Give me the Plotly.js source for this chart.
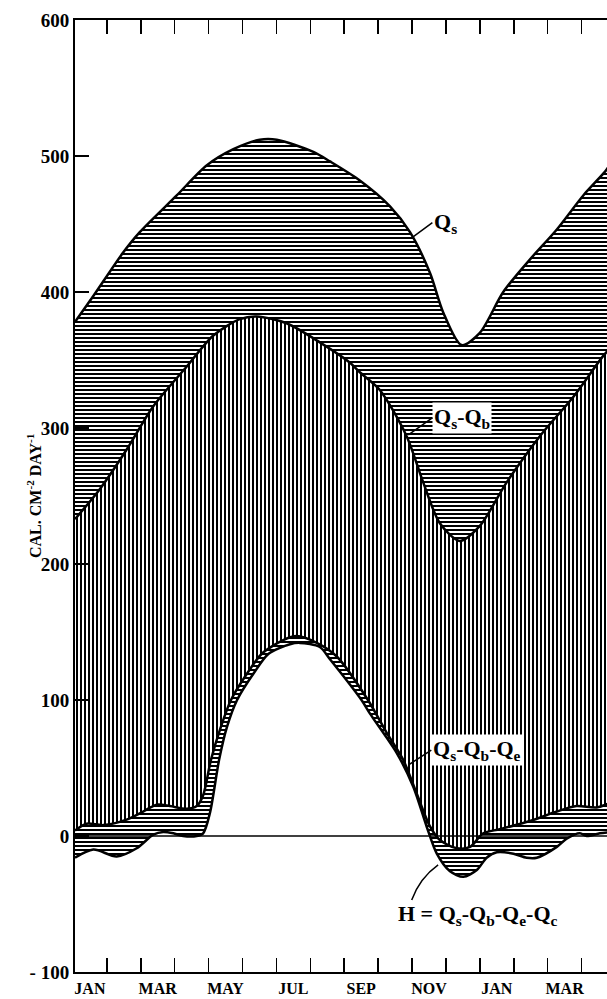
<!DOCTYPE html>
<html>
<head>
<meta charset="utf-8">
<script src="https://cdn.plot.ly/plotly-3.0.1.min.js"></script>
<style>
html,body{margin:0;padding:0;background:#fff;overflow:hidden;}
#chart{width:607px;height:999px;}
</style>
</head>
<body>
<div id="chart"></div>
<script>
// Month index: 0 = JAN (first year), 12 = JAN (second year)
const monthLabels = ['JAN','MAR','MAY','JUL','SEP','NOV','JAN','MAR'];
const monthLabelPos = [0,2,4,6,8,10,12,14];
const monthTickPos = [-0.5,0.5,1.5,2.5,3.5,4.5,5.5,6.5,7.5,8.5,9.5,10.5,11.5,12.5,13.5,14.5,15.5];
const yTickVals = [-100,0,100,200,300,400,500,600];
const yTickText = ['- 100','0','100','200','300','400','500','600'];

// Qs
const qsX = [-0.44,0.10,0.98,1.47,2.56,3.44,4.23,5.01,5.51,6.59,7.08,7.96,8.85,9.44,10.03,10.42,10.96,11.50,12.19,12.98,13.77,14.55,15.24,15.4];
const qsY = [378,397,429,444,471,493,505,512,512,503,496,482,463,444,414,385,361,370,400,424,446,471,490,497];

// Qs - Qb
const qsqbX = [-0.44,0.29,1.08,1.87,2.85,3.64,4.42,4.92,5.80,6.78,7.67,7.96,8.55,9.34,9.83,10.32,10.91,11.50,12.29,13.27,14.26,15.14,15.4];
const qsqbY = [233,255,284,316,345,368,380,382,377,363,348,341,328,294,260,230,217,228,260,294,323,353,360];

// Qs - Qb - Qe
const qeX = [-0.44,-0.10,0.39,1.08,1.57,1.97,2.36,2.85,3.15,3.34,3.57,3.86,4.16,4.65,5.07,5.70,6.10,6.69,7.28,8.20,8.75,9.24,9.64,10.03,10.32,10.82,11.21,11.60,12.09,12.98,13.77,14.35,14.95,15.4];
const qeY = [4,9,8,12,18,23,22,20,22,30,56,80,100,120,134,144,147,142,132,100,76,56,31,7,-3,-9,-8,2,5,11,18,22,21,25];

// H = Qs - Qb - Qe - Qc
const hX = [-0.44,0.10,0.79,1.38,1.87,2.16,2.46,2.75,3.15,3.34,3.54,3.81,4.04,4.34,4.84,5.27,5.90,6.19,6.78,7.08,8.01,8.26,9.05,9.54,9.93,10.23,10.62,11.01,11.41,11.70,12.00,12.49,12.88,13.18,13.77,14.06,14.45,14.65,15.04,15.4];
const hY = [-16,-10,-15,-9,1,3,2,0,0,2,17,56,80,100,120,134,141,142,139,130,100,90,61,36,7,-13,-26,-30,-25,-16,-12,-13,-16,-16,-8,-2,2,0,2,3];

const serif = 'Liberation Serif, Times New Roman, serif';
const lineStyle = {color:'#000', width:2.5, shape:'spline', smoothing:0.8};
function pattern(shape){
  return {shape:shape, size:4, solidity:0.5, fgcolor:'#000', bgcolor:'#fff', fillmode:'replace'};
}

const traces = [
  {x:hX, y:hY, type:'scatter', mode:'lines', line:lineStyle, hoverinfo:'skip'},
  {x:qeX, y:qeY, type:'scatter', mode:'lines', line:lineStyle, fill:'tonexty', fillcolor:'#fff', fillpattern:pattern('-'), hoverinfo:'skip'},
  {x:qsqbX, y:qsqbY, type:'scatter', mode:'lines', line:lineStyle, fill:'tonexty', fillcolor:'#fff', fillpattern:pattern('|'), hoverinfo:'skip'},
  {x:qsX, y:qsY, type:'scatter', mode:'lines', line:lineStyle, fill:'tonexty', fillcolor:'#fff', fillpattern:pattern('-'), hoverinfo:'skip'},
  // helper (invisible) so the label axis is drawn
  {x:hX, y:hY, xaxis:'x2', type:'scatter', mode:'lines', line:{width:0}, opacity:0, hoverinfo:'skip'}
];

const labelFont = {family:serif, size:22, color:'#000', weight:'bold'};
const leader = {showarrow:true, arrowhead:0, arrowwidth:1.5, arrowcolor:'#000', standoff:0, xanchor:'left', yanchor:'middle'};

const layout = {
  width:607, height:999,
  margin:{l:75, r:0, t:20, b:27},
  paper_bgcolor:'#fff', plot_bgcolor:'#fff',
  showlegend:false,
  xaxis:{
    range:[-0.44,15.25], tickmode:'array', tickvals:monthTickPos, showticklabels:false,
    ticks:'inside', ticklen:14, tickwidth:1.5, tickcolor:'#000',
    showline:true, linewidth:2, linecolor:'#000', mirror:'ticks',
    showgrid:false, zeroline:false
  },
  xaxis2:{
    overlaying:'x', anchor:'y', side:'bottom',
    range:[-0.44,15.25], tickmode:'array', tickvals:monthLabelPos, ticktext:monthLabels,
    ticks:'', showline:false, showgrid:false, zeroline:false,
    tickfont:{family:serif, size:16, color:'#000', weight:'bold'},
    ticklabelstandoff:5
  },
  yaxis:{
    range:[-100,600], tickmode:'array', tickvals:yTickVals, ticktext:yTickText,
    ticks:'inside', ticklen:14, tickwidth:1.5, tickcolor:'#000',
    showline:true, linewidth:2, linecolor:'#000', mirror:false,
    showgrid:false, zeroline:false,
    tickfont:{family:serif, size:19, color:'#000', weight:'bold'}
  },
  shapes:[
    {type:'line', xref:'paper', x0:0, x1:1, yref:'y', y0:0, y1:0, line:{color:'#000', width:1.5}, layer:'above'},
    // curved leader for the H label
    {type:'path', xref:'x', yref:'y', path:'M 10.27,-21.3 Q 9.73,-30.9 9.49,-47.1', line:{color:'#000', width:1.5}, layer:'above'}
  ],
  annotations:[
    {xref:'paper', yref:'paper', x:0, y:0.5, xshift:-53, textangle:-90, showarrow:false,
     text:'CAL. CM<sup>-2</sup> DAY<sup>-1</sup>', font:{family:serif, size:16, color:'#000', weight:'bold'}},
    Object.assign({x:9.54, y:440.7, ax:19, ay:-14, text:'Q<sub>s</sub>', font:labelFont}, leader),
    Object.assign({x:9.39, y:294.9, ax:24, ay:-17, text:'Q<sub>s</sub>-Q<sub>b</sub>', font:labelFont, bgcolor:'#fff', borderpad:1}, leader),
    Object.assign({x:9.39, y:52.2, ax:23, ay:-15, text:'Q<sub>s</sub>-Q<sub>b</sub>-Q<sub>e</sub>', font:labelFont, bgcolor:'#fff', borderpad:1}, leader),
    {x:11.45, y:-58, text:'H = Q<sub>s</sub>-Q<sub>b</sub>-Q<sub>e</sub>-Q<sub>c</sub>', showarrow:false, font:labelFont}
  ]
};

Plotly.newPlot('chart', traces, layout, {displayModeBar:false, staticPlot:true});
</script>
</body>
</html>
